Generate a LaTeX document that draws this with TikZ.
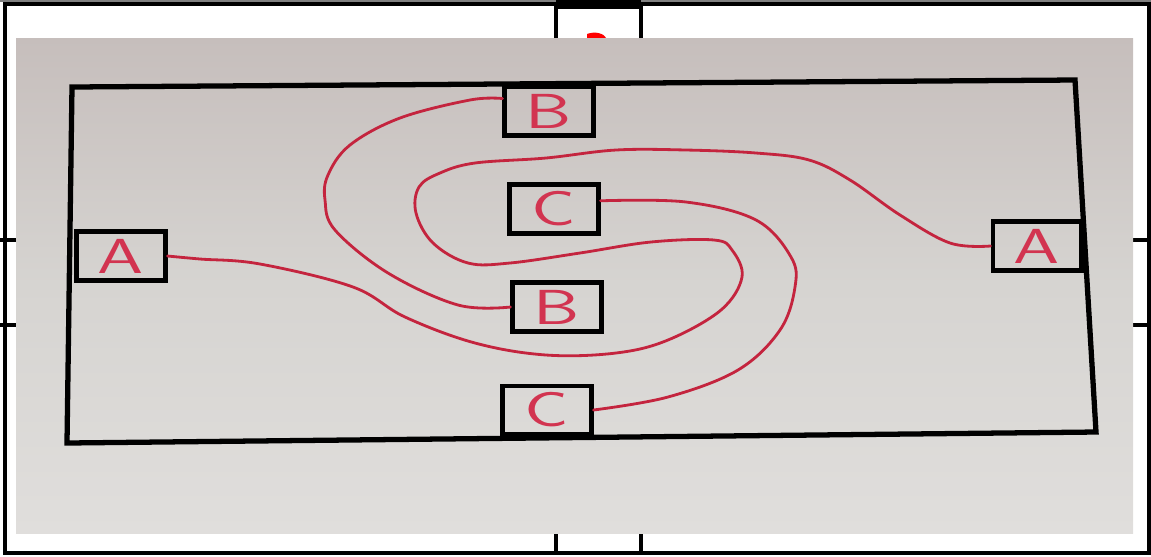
\documentclass[tikz,border=0pt]{standalone}
\definecolor{wirered}{RGB}{196,36,62}
\definecolor{letterred}{RGB}{210,52,80}
\definecolor{phototop}{RGB}{198,190,188}
\definecolor{photomid}{RGB}{214,212,209}
\definecolor{photobot}{RGB}{224,222,220}
\newcommand\boxlabel[1]{\scalebox{1.5}[1]{#1}}
\begin{document}
\begin{tikzpicture}[x=0.02cm, y=-0.02cm, line width=0.6pt,
  box/.style={draw=black, line width=2.3pt, minimum width=1.78cm, minimum height=0.98cm, inner sep=0pt,
    font=\fontsize{28}{28}\selectfont\sffamily, text=letterred},
  wire/.style={draw=wirered, line width=1.6pt, line cap=round},
  frame/.style={line width=2.8pt}]
  \useasboundingbox (0,0) rectangle (1151,556);
  % outer frame with the tabs and ticks
  \draw[gray, line width=1pt] (0,1) -- (1151,1);
  \draw[frame] (5,4) rectangle (1149,553);
  \fill (556,0) rectangle (641,9);
  \draw[frame] (556,4) -- (556,40); \draw[frame] (641,4) -- (641,40);
  \draw[frame] (556,531) -- (556,553); \draw[frame] (641,531) -- (641,553);
  \draw[frame] (0,240) -- (16,240); \draw[frame] (0,325) -- (16,325);
  \draw[frame] (1133,240) -- (1149,240); \draw[frame] (1133,325) -- (1149,325);
  \fill[red] (587,39) -- (587,34) .. controls (595,31) and (604,33) .. (607,39) -- cycle;
  % photo
  \shade[top color=phototop, bottom color=photobot, middle color=photomid] (16,38) rectangle (1133,533);
  \draw[line width=3pt] (72,87) -- (1075,80) -- (1096,432) -- (67,443) -- cycle;
  % boxes
  \node[box] (Bt) at (549,111) {\boxlabel{B}};
  \node[box] (Cm) at (554,209) {\boxlabel{C}};
  \node[box] (Bm) at (557,307) {\boxlabel{B}};
  \node[box] (Cb) at (547,410) {\boxlabel{C}};
  \node[box] (Al) at (121,256) {\boxlabel{A}};
  \node[box] (Ar) at (1037,246) {\boxlabel{A}};
  % wires
  \draw[wire] plot[smooth, tension=0.6] coordinates {(Al.east) (200,259) (260,264) (353,287) (405,317)
    (475,343) (546,355) (616,353) (668,340) (721,310) (742,277) (732,250) (714,240) (651,242)
    (580,253) (510,263) (468,263) (433,243) (416,213) (419,187) (440,173) (475,163) (546,158)
    (616,150) (686,150) (756,153) (809,160) (850,180) (900,215) (950,243) (Ar.west)};
  \draw[wire] plot[smooth, tension=0.6] coordinates {(Bt.165) (470,100) (400,118) (350,145) (328,175)
    (325,200) (335,230) (388,273) (458,305) (Bm.west)};
  \draw[wire] plot[smooth, tension=0.6] coordinates {(Cm.10) (686,202) (756,220) (791,257) (795,287)
    (780,330) (738,370) (668,397) (Cb.east)};
\end{tikzpicture}
\end{document}
